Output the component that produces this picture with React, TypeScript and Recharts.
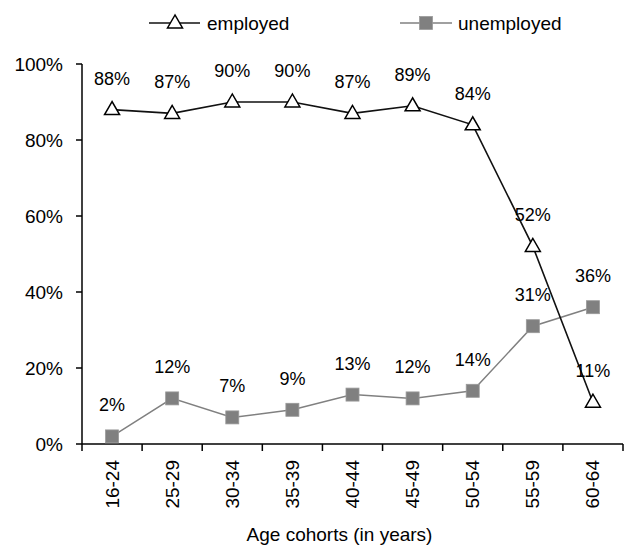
import { Label, LabelList, Legend, Line, LineChart, XAxis, YAxis } from "recharts";

const cohorts = ["16-24", "25-29", "30-34", "35-39", "40-44", "45-49", "50-54", "55-59", "60-64"];
const employed = [88, 87, 90, 90, 87, 89, 84, 52, 11];
const unemployed = [2, 12, 7, 9, 13, 12, 14, 31, 36];
const yTicks = [0, 20, 40, 60, 80, 100];

const chartData = cohorts.map((cohort, i) => ({
  cohort,
  employed: employed[i],
  unemployed: unemployed[i],
}));

const font = "'Liberation Sans', Arial, sans-serif";
const W = 632;
const H = 546;
const margin = { top: 18, right: 9, bottom: 42, left: 12 };
const yAxisWidth = 70;
const plotWidth = W - margin.left - margin.right - yAxisWidth;
const band = plotWidth / cohorts.length;

const empColor = "#111";
const unempColor = "#808080";

function TriangleDot(props: any) {
  const { cx, cy } = props;
  if (cx == null || cy == null) return null;
  return (
    <polygon
      points={`${cx},${cy - 8} ${cx - 7.5},${cy + 5} ${cx + 7.5},${cy + 5}`}
      fill="#fff"
      stroke="#000"
      strokeWidth={1.5}
    />
  );
}

function SquareDot(props: any) {
  const { cx, cy } = props;
  if (cx == null || cy == null) return null;
  return <rect x={cx - 6.5} y={cy - 6.5} width={13} height={13} fill={unempColor} stroke="#999" strokeWidth={0.8} />;
}

function CohortTick(props: any) {
  const { x, y, payload, index } = props;
  const last = index === cohorts.length - 1;
  return (
    <g>
      <line x1={x - band / 2} x2={x - band / 2} y1={y} y2={y + 7} stroke="#000" strokeWidth={1.5} />
      {last && <line x1={x + band / 2} x2={x + band / 2} y1={y} y2={y + 7} stroke="#000" strokeWidth={1.5} />}
      <text
        x={x}
        y={y + 16}
        transform={`rotate(-90, ${x}, ${y + 16})`}
        textAnchor="end"
        dominantBaseline="central"
        fontSize={19}
        fontFamily={font}
        fill="#000"
      >
        {payload.value}
      </text>
    </g>
  );
}

function LegendBox() {
  return (
    <svg width={W} height={46} style={{ display: "block" }}>
      <line x1={149} x2={200} y1={23} y2={23} stroke={empColor} strokeWidth={1.5} />
      <TriangleDot cx={175} cy={23} />
      <text x={207} y={23} dominantBaseline="central" fontSize={19} fontFamily={font} fill="#000">
        employed
      </text>
      <line x1={400} x2={452} y1={23} y2={23} stroke={unempColor} strokeWidth={1.5} />
      <SquareDot cx={426} cy={23} />
      <text x={458} y={23} dominantBaseline="central" fontSize={19} fontFamily={font} fill="#000">
        unemployed
      </text>
    </svg>
  );
}

export default function App() {
  return (
    <div style={{ position: "absolute", left: 0, top: 0, width: W, height: H, background: "#fff" }}>
      <LineChart width={W} height={H} data={chartData} margin={margin}>
        <Legend
          verticalAlign="top"
          align="left"
          content={() => <LegendBox />}
          wrapperStyle={{ top: 0, left: 0, width: W, height: 46 }}
        />
        <XAxis
          dataKey="cohort"
          scale="band"
          interval={0}
          height={60}
          tickSize={0}
          tickMargin={0}
          tickLine={false}
          axisLine={{ stroke: "#000", strokeWidth: 1.5 }}
          tick={<CohortTick />}
        >
          <Label
            value="Age cohorts (in years)"
            position="bottom"
            offset={24}
            dx={-13}
            fontSize={19}
            fontFamily={font}
            fill="#000"
          />
        </XAxis>
        <YAxis
          width={yAxisWidth}
          domain={[0, 100]}
          ticks={yTicks}
          tickFormatter={(v) => `${v}%`}
          tickSize={6}
          tickMargin={13}
          tickLine={{ stroke: "#000", strokeWidth: 1.5 }}
          axisLine={{ stroke: "#000", strokeWidth: 1.5 }}
          tick={{ fill: "#000", fontSize: 19, fontFamily: font }}
        />
        <Line
          dataKey="unemployed"
          stroke={unempColor}
          strokeWidth={1.5}
          dot={<SquareDot />}
          activeDot={false}
          isAnimationActive={false}
        >
          <LabelList
            dataKey="unemployed"
            position="top"
            offset={25}
            formatter={(v: any) => `${v}%`}
            fontSize={18}
            fontFamily={font}
            fill="#000"
          />
        </Line>
        <Line
          dataKey="employed"
          stroke={empColor}
          strokeWidth={1.6}
          dot={<TriangleDot />}
          activeDot={false}
          isAnimationActive={false}
        >
          <LabelList
            dataKey="employed"
            position="top"
            offset={25}
            formatter={(v: any) => `${v}%`}
            fontSize={18}
            fontFamily={font}
            fill="#000"
          />
        </Line>
      </LineChart>
    </div>
  );
}
